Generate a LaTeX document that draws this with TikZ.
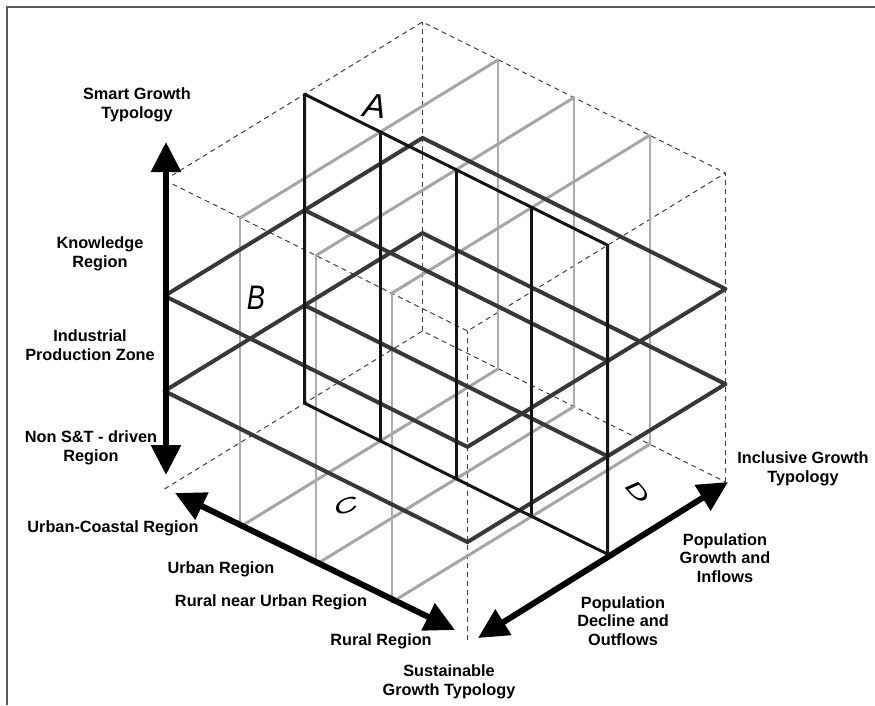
\documentclass[tikz,border=0pt]{standalone}
\usepackage{fontspec}
\setmainfont{Liberation Sans}
\usetikzlibrary{arrows.meta}
\begin{document}
\begin{tikzpicture}[x=1pt,y=-1pt,
  lbl/.style={font=\fontsize{16.3}{18.5}\selectfont\bfseries, align=center, inner sep=0pt},
  hand/.style={font=\fontsize{34}{34}\selectfont\itshape, inner sep=0pt},
  cubeedge/.style={draw=black!75, line width=1pt, dash pattern=on 5pt off 4pt},
  frameline/.style={draw=black!35, line width=3pt, line cap=round},
  framepost/.style={draw=black!32, line width=2.2pt},
  slabline/.style={draw=black!78, line width=4pt, line join=round},
  sliceline/.style={draw=black!92, line width=3pt, line join=round},
  axisarrow/.style={line width=6pt, {Triangle[length=30pt,width=29pt]}-{Triangle[length=30pt,width=29pt]}},
]
\useasboundingbox (0,0) rectangle (875,705);
% page frame
\draw[black!65, line width=1.5pt] (7,705) -- (7,7) -- (875,7);

% isometric cube: u towards the left corner, v towards the right corner, w up
\begin{scope}[shift={(422.5pt,-331pt)}, x={(-258pt,-158pt)}, y={(303pt,-151pt)}, z={(0pt,309pt)}]
  \def\uA{0.457}
  \def\wlo{0.317}
  \def\whi{0.625}
  % cube corners
  \coordinate (b00) at (0,0,0);
  \coordinate (b10) at (1,0,0);
  \coordinate (b01) at (0,1,0);
  \coordinate (b11) at (1,1,0);
  \coordinate (t00) at (0,0,1);
  \coordinate (t10) at (1,0,1);
  \coordinate (t01) at (0,1,1);
  \coordinate (t11) at (1,1,1);
  % dashed outline of the cube
  \draw[cubeedge] (t10) -- (t00) -- (t01);
  \draw[cubeedge] (t10) -- (t11) -- (t01);
  \draw[cubeedge] (b00) -- (t00);
  \draw[cubeedge] (b01) -- (t01);
  \draw[cubeedge] (b11) -- (t11);
  \draw[cubeedge] (b10) -- (b00) -- (b01);

  % light grey frames (C): posts first, then top and bottom bars
  \foreach \v in {0.25,0.5,0.75}{
    \draw[framepost] (0,\v,0) -- (0,\v,1);
    \draw[framepost] (1,\v,0) -- (1,\v,1);
    \draw[frameline] (0,\v,0) -- (1,\v,0);
    \draw[frameline] (0,\v,1) -- (1,\v,1);
  }

  % horizontal slabs (B)
  \foreach \w in {\wlo,\whi}{
    \draw[slabline] (0,0,\w) -- (1,0,\w) -- (1,1,\w) -- (0,1,\w) -- cycle;
    \draw[slabline] (\uA,0,\w) -- (\uA,1,\w);
  }

  % vertical slice (A)
  \draw[sliceline] (\uA,0,0) -- (\uA,1,0) -- (\uA,1,1) -- (\uA,0,1) -- cycle;
  \foreach \v in {0.25,0.5,0.75}{
    \draw[sliceline] (\uA,\v,0) -- (\uA,\v,1);
  }
\end{scope}

% axes
\coordinate (vtop) at (166,142);
\coordinate (vbot) at (166,475);
\coordinate (lleft) at (175,493);
\coordinate (lfront) at (455,630);
\coordinate (rfront) at (478,638);
\coordinate (rright) at (728,482);
\draw[axisarrow] (vbot) -- (vtop);
\draw[axisarrow] (lleft) -- (lfront);
\draw[axisarrow] (rfront) -- (rright);

% axis labels
\node[lbl] (smart) at (137,105) {Smart Growth\\Typology};
\node[lbl] (know) at (100,254) {Knowledge\\Region};
\node[lbl] (ind) at (90,345) {Industrial\\Production Zone};
\node[lbl] (nonst) at (91,448) {Non S\&T - driven\\Region};
\node[lbl] (ucoast) at (113,528) {Urban-Coastal Region};
\node[lbl] (urban) at (221,569) {Urban Region};
\node[lbl] (rnear) at (271,602) {Rural near Urban Region};
\node[lbl] (rural) at (381,641) {Rural Region};
\node[lbl] (sust) at (449,682) {Sustainable\\Growth Typology};
\node[lbl] (decl) at (623,621) {Population\\Decline and\\Outflows};
\node[lbl] (grow) at (725,558) {Population\\Growth and\\Inflows};
\node[lbl] (incl) at (803,469) {Inclusive Growth\\Typology};

% hand-written slice letters
\node[hand, rotate=-6] (la) at (375,106) {A};
\node[hand, xscale=0.8] (lb) at (256,298) {B};
\node[hand, rotate=18, yscale=0.6] (lc) at (346,506) {C};
\node[hand, rotate=-48, yscale=0.6] (ld) at (638,492) {D};
\end{tikzpicture}
\end{document}
